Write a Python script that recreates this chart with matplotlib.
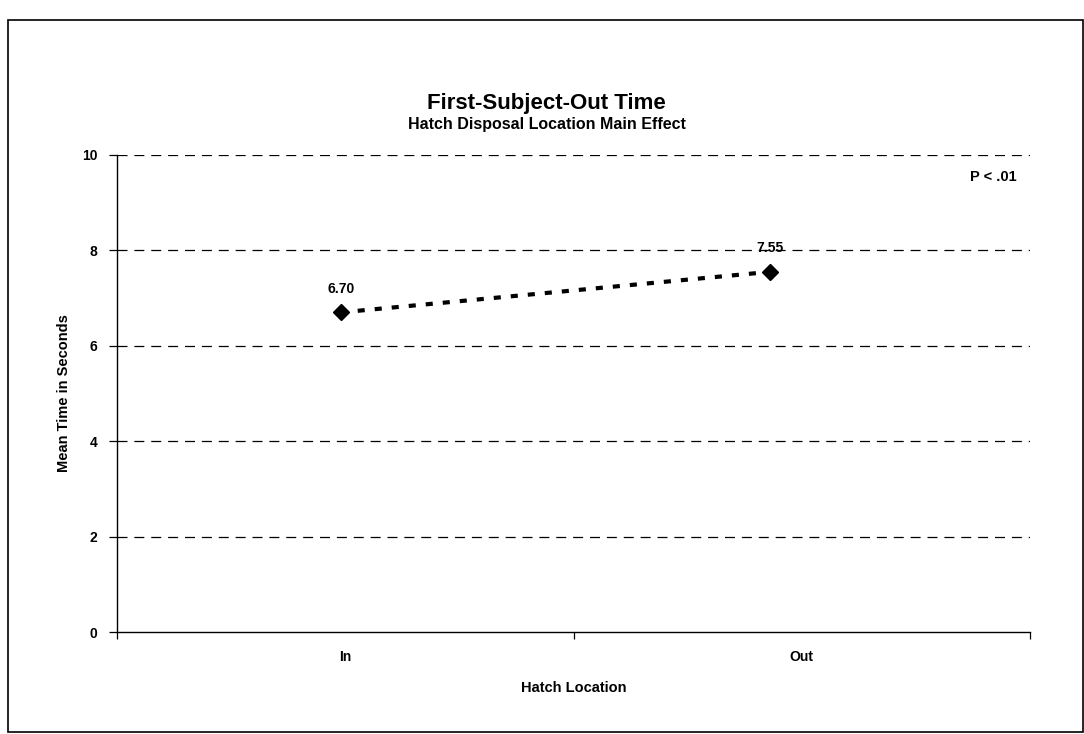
import matplotlib
matplotlib.use("Agg")
import matplotlib.pyplot as plt
from matplotlib.patches import Rectangle

categories = ["In", "Out"]
mean_times = [6.70, 7.55]
value_labels = ["6.70", "7.55"]
y_ticks = [0, 2, 4, 6, 8, 10]

plt.rcParams['font.family'] = ['Liberation Sans', 'DejaVu Sans']

W, H = 1084, 734
fig = plt.figure(figsize=(W / 100, H / 100), dpi=100)

# outer frame
fig.add_artist(Rectangle((8 / W, 1 - 732 / H), (1083 - 8) / W, (732 - 20) / H,
                         transform=fig.transFigure, fill=False, edgecolor='black', lw=1.2))

ax = fig.add_axes([117 / W, 1 - 632 / H, (1030 - 117) / W, (632 - 155) / H])

cat_pos = [0.5, 1.5]
point_pos = [0.49, 1.43]

ax.set_xlim(0, 2)
ax.set_ylim(0, 10)
for y in y_ticks[1:]:
    ax.axhline(y, color='black', lw=0.9, ls=(0, (8, 5.5)), zorder=1)

ax.plot(point_pos, mean_times, color='black', lw=3.0, ls=(0, (1.7, 2.4)),
        marker='D', markersize=8.5, zorder=3, dash_capstyle='butt')
for x, y, t in zip(point_pos, mean_times, value_labels):
    ax.annotate(t, (x, y), xytext=(0, 12), textcoords='offset points',
                ha='center', va='bottom', fontsize=10, fontweight='bold')

ax.set_yticks(y_ticks)
ax.set_yticklabels([str(v) for v in y_ticks], fontsize=10, fontweight='bold')
ax.set_xticks([0, 1, 2])
ax.set_xticklabels([])
ax.set_xticks(cat_pos, minor=True)
ax.set_xticklabels(categories, minor=True, fontsize=10, fontweight='bold')
ax.tick_params(axis='x', which='minor', length=0, pad=13)
ax.tick_params(axis='x', which='major', length=5, width=0.9, direction='out')
ax.tick_params(axis='y', length=6, width=0.9, direction='out', pad=8)

for s in ['top', 'right']:
    ax.spines[s].set_visible(False)
for s in ['left', 'bottom']:
    ax.spines[s].set_linewidth(1.0)

ax.set_xlabel("Hatch Location", fontsize=10.5, fontweight='bold', labelpad=12)
ax.set_ylabel("Mean Time in Seconds", fontsize=10.5, fontweight='bold', labelpad=8)

fig.text(546 / W, 1 - 104 / H, "First-Subject-Out Time", ha='center', va='center',
         fontsize=16, fontweight='bold')
fig.text(547 / W, 1 - 125 / H, "Hatch Disposal Location Main Effect", ha='center',
         va='center', fontsize=11.5, fontweight='bold')
fig.text(993 / W, 1 - 177 / H, "P < .01", ha='center', va='center',
         fontsize=10.5, fontweight='bold')

fig.savefig("out.png", dpi=100)
